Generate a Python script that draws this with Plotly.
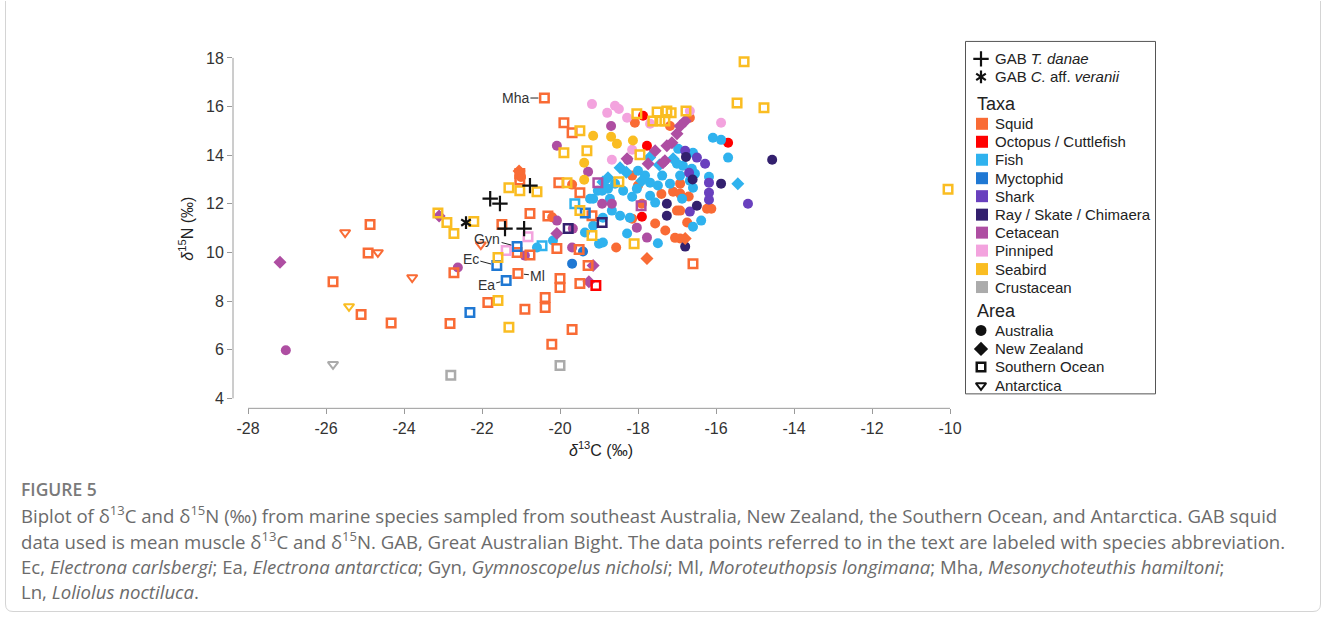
import plotly.graph_objects as go

W, H = 1328, 620
# horizontal extent, in screen pixels, that the paper ends up spanning
W_EFF = 1321

# ---------------- stable isotope values (x = d13C, y = d15N, per mil) ----------------
squid_au_x = [-18.08, -16.67, -17.18, -18.15, -18.00, -17.00, -17.56, -18.15, -18.56, -16.92,
              -16.23, -16.12, -19.69, -17.40, -17.10, -16.70, -17.90, -17.30, -16.92, -16.92,
              -20.20, -21.00, -16.74, -16.92, -17.05]
squid_au_y = [15.33, 15.54, 15.20, 13.16, 12.75, 11.72, 11.19, 11.39, 10.20, 10.57,
              11.80, 11.80, 12.79, 12.40, 12.50, 12.30, 12.00, 10.90, 12.83, 11.72,
              11.45, 13.10, 11.23, 12.42, 10.60]
squid_nz_x = [-17.77, -16.79, -21.05]
squid_nz_y = [9.75, 10.57, 13.35]
squid_so_x = [-20.40, -19.90, -19.69, -21.03, -21.03, -20.03, -20.77, -20.31, -21.49, -21.10,
              -20.77, -20.08, -19.51, -22.72, -21.08, -20.00, -20.00, -19.49, -19.28, -21.85,
              -20.90, -20.38, -20.38, -22.82, -19.69, -20.21, -16.59, -25.82, -24.87, -24.92,
              -25.10, -24.33, -19.49, -19.18]
squid_so_y = [16.35, 15.33, 14.92, 13.25, 12.98, 12.87, 11.60, 11.50, 11.15, 10.00,
              9.90, 10.16, 10.12, 9.17, 9.13, 8.93, 8.56, 8.72, 9.46, 7.94,
              7.66, 8.15, 7.74, 7.08, 6.83, 6.22, 9.54, 8.80, 11.15, 9.98,
              7.45, 7.10, 12.46, 11.51]
squid_an_x = [-25.51, -24.67, -23.79, -22.03]
squid_an_y = [10.82, 10.00, 8.97, 10.32]

octo_au_x = [-17.87, -17.77, -15.69, -17.90]
octo_au_y = [15.62, 14.39, 14.51, 11.47]
octo_so_x = [-19.08]
octo_so_y = [8.64]

fish_au_x = [-19.15, -18.72, -18.67, -18.90, -18.46, -18.21, -18.03, -17.69, -17.49, -17.38,
             -17.18, -17.69, -17.56, -18.77, -18.59, -18.38, -18.15, -16.85, -16.92, -18.00,
             -17.82, -18.90, -18.28, -17.49, -19.03, -19.15, -16.08, -15.87, -15.69, -16.38,
             -16.59, -16.18, -19.00, -16.97, -16.59, -17.00, -16.62, -16.59, -16.67, -16.87,
             -16.54, -20.18, -20.59, -19.36, -19.23, -18.92]
fish_au_y = [12.21, 12.21, 11.72, 11.43, 11.51, 11.43, 12.62, 12.33, 12.75, 13.16,
             12.83, 12.87, 12.05, 12.62, 12.83, 12.54, 12.29, 13.57, 13.16, 13.36,
             13.16, 10.41, 10.78, 10.38, 12.54, 11.10, 14.72, 14.63, 13.90, 11.31,
             11.06, 13.11, 10.36, 14.26, 14.10, 13.65, 13.44, 12.66, 12.95, 12.21,
             13.24, 10.49, 10.20, 10.82, 12.21, 12.54]
fish_nz_x = [-15.44, -18.46, -18.77, -17.10, -18.30, -17.90, -17.45, -18.90, -17.70]
fish_nz_y = [12.83, 13.48, 13.07, 13.85, 13.30, 12.95, 13.60, 12.90, 13.90]
fish_so_x = [-19.62, -20.46]
fish_so_y = [12.00, 10.28]

myct_au_x = [-19.69, -19.41]
myct_au_y = [9.54, 10.04]
myct_so_x = [-21.10, -21.62, -21.38, -22.31, -19.35]
myct_so_y = [10.24, 9.46, 8.85, 7.53, 11.62]

shark_au_x = [-16.79, -16.49, -16.28, -16.69, -16.18, -16.18, -16.18, -16.67, -15.18]
shark_au_y = [14.18, 13.90, 13.65, 13.28, 12.87, 12.46, 12.17, 11.68, 12.00]

ray_au_x = [-14.56, -15.87, -16.49, -16.79, -17.26, -17.26, -16.77, -16.60]
ray_au_y = [13.81, 12.83, 11.92, 10.24, 12.00, 11.51, 13.93, 13.00]
ray_so_x = [-18.92, -19.79]
ray_so_y = [11.23, 10.98]

ceta_au_x = [-27.03, -20.08, -19.28, -18.69, -18.26, -22.62, -20.90, -19.69, -18.92, -18.67,
             -17.77, -18.03, -20.08, -19.67]
ceta_au_y = [5.98, 14.39, 13.32, 15.20, 13.81, 9.38, 9.87, 10.20, 12.00, 12.00,
             10.61, 11.02, 11.31, 10.98]
ceta_nz_x = [-27.18, -23.10, -19.15, -19.26, -16.79, -16.92, -17.00, -17.13, -17.26, -17.56,
             -17.31, -17.74, -18.28, -17.36, -20.08]
ceta_nz_y = [9.60, 11.50, 9.46, 8.80, 15.41, 15.20, 14.88, 14.51, 14.39, 14.18,
             13.77, 13.65, 13.85, 13.69, 10.78]
ceta_so_x = [-19.03, -17.92]
ceta_so_y = [12.87, 11.92]

pinn_au_x = [-19.18, -18.79, -18.59, -18.49, -18.28, -17.69, -18.67, -18.15, -15.87, -16.67]
pinn_au_y = [16.10, 15.74, 16.03, 15.90, 15.54, 15.29, 13.81, 14.22, 15.33, 15.82]
pinn_so_x = [-21.38, -20.82]
pinn_so_y = [10.08, 10.65]

bird_au_x = [-19.15, -19.38, -19.38, -18.69, -18.54, -18.13]
bird_au_y = [14.80, 13.69, 12.99, 14.76, 14.47, 14.60]
bird_so_x = [-23.13, -22.90, -22.72, -22.21, -21.31, -21.03, -20.59, -19.82, -18.49, -19.90,
             -19.31, -19.49, -18.03, -17.62, -17.51, -17.26, -17.15, -17.44, -17.31, -16.77,
             -15.28, -15.46, -14.77, -17.95, -10.05, -19.49, -19.18, -18.10, -21.59, -21.31,
             -21.59]
bird_so_y = [11.62, 11.23, 10.78, 11.27, 12.66, 12.54, 12.50, 12.87, 12.91, 14.10,
             14.18, 15.00, 15.70, 15.41, 15.78, 15.82, 15.74, 15.41, 15.41, 15.82,
             17.84, 16.15, 15.95, 14.02, 12.60, 11.72, 10.70, 10.36, 8.02, 6.92,
             9.79]
bird_an_x = [-25.41]
bird_an_y = [7.78]

crus_an_x = [-25.82]
crus_an_y = [5.40]
crus_so_x = [-20.00, -22.80]
crus_so_y = [5.35, 4.95]

# Great Australian Bight squid (mean muscle values)
gab_danae_x = [-21.79, -21.54, -20.77, -21.41, -20.92]
gab_danae_y = [12.21, 12.01, 12.75, 10.98, 10.98]
gab_veranii_x = [-22.41]
gab_veranii_y = [11.23]

taxa = ["Squid", "Octopus / Cuttlefish", "Fish", "Myctophid", "Shark",
        "Ray / Skate / Chimaera", "Cetacean", "Pinniped", "Seabird", "Crustacean"]
taxa_colors = ["#F96B35", "#FF0000", "#2FB2EE", "#1F78D3", "#6940BE",
               "#33206E", "#AE4EA2", "#F3A3DE", "#FABD22", "#ABABAB"]
areas = ["Australia", "New Zealand", "Southern Ocean", "Antarctica"]

x_ticks = [-28, -26, -24, -22, -20, -18, -16, -14, -12, -10]
y_ticks = [4, 6, 8, 10, 12, 14, 16, 18]

# (taxon index, area index, x values, y values)
series = [
    (0, 0, squid_au_x, squid_au_y), (1, 0, octo_au_x, octo_au_y), (2, 0, fish_au_x, fish_au_y),
    (3, 0, myct_au_x, myct_au_y), (4, 0, shark_au_x, shark_au_y), (5, 0, ray_au_x, ray_au_y),
    (6, 0, ceta_au_x, ceta_au_y), (7, 0, pinn_au_x, pinn_au_y), (8, 0, bird_au_x, bird_au_y),
    (0, 1, squid_nz_x, squid_nz_y), (2, 1, fish_nz_x, fish_nz_y), (6, 1, ceta_nz_x, ceta_nz_y),
    (0, 2, squid_so_x, squid_so_y), (1, 2, octo_so_x, octo_so_y), (2, 2, fish_so_x, fish_so_y),
    (3, 2, myct_so_x, myct_so_y), (5, 2, ray_so_x, ray_so_y), (6, 2, ceta_so_x, ceta_so_y),
    (7, 2, pinn_so_x, pinn_so_y), (8, 2, bird_so_x, bird_so_y), (9, 2, crus_so_x, crus_so_y),
    (0, 3, squid_an_x, squid_an_y), (8, 3, bird_an_x, bird_an_y), (9, 3, crus_an_x, crus_an_y),
]

# marker look for each sampling area
area_marker = [
    dict(symbol="circle", size=10, line=dict(width=0)),
    dict(symbol="diamond", size=10, line=dict(width=0)),
    dict(symbol="square-open", size=8.5, line=dict(width=2.5)),
    dict(symbol="triangle-down-open", size=9, line=dict(width=2)),
]
INK = "#111111"
cross_marker = dict(symbol="cross-thin-open", size=11, color=INK, line=dict(width=2.2, color=INK))
# six-armed asterisk built from two mirrored "Y" glyphs
star_markers = [dict(symbol=s, size=8, color=INK, line=dict(width=2.2, color=INK))
                for s in ("y-up-open", "y-down-open")]

FONT = "Liberation Sans, Arial, sans-serif"
CAP_FONT = "Open Sans, Lato, sans-serif"

fig = go.Figure()

for a in range(len(areas)):
    for t, area, xs, ys in series:
        if area != a:
            continue
        m = dict(area_marker[a])
        m["color"] = taxa_colors[t]
        if "open" in m["symbol"]:
            m["line"] = dict(width=m["line"]["width"], color=taxa_colors[t])
        fig.add_trace(go.Scatter(x=xs, y=ys, mode="markers", marker=m,
                                 name=f"{taxa[t]} ({areas[area]})", showlegend=False,
                                 cliponaxis=False, xaxis="x", yaxis="y"))

fig.add_trace(go.Scatter(x=gab_danae_x, y=gab_danae_y, mode="markers", showlegend=False,
                         name="GAB T. danae", cliponaxis=False, marker=cross_marker))
for sm in star_markers:
    fig.add_trace(go.Scatter(x=gab_veranii_x, y=gab_veranii_y, mode="markers", showlegend=False,
                             name="GAB C. aff. veranii", cliponaxis=False, marker=sm))

# ---------------- labelled species ----------------
labelled = [
    ("Mha", squid_so_x[0], squid_so_y[0], -29, 0),
    ("Gyn", myct_so_x[0], myct_so_y[0], -30, -8),
    ("Ec", myct_so_x[1], myct_so_y[1], -26, -7),
    ("Ml", squid_so_x[14], squid_so_y[14], 20, 2),
    ("Ea", myct_so_x[2], myct_so_y[2], -20, 5),
]
annotations = []
for name, lx, ly, ax, ay in labelled:
    annotations.append(dict(x=lx, y=ly, xref="x", yref="y", text=name, showarrow=True,
                            arrowhead=0, arrowwidth=1, arrowcolor="#222222", ax=ax, ay=ay,
                            standoff=6, font=dict(family=FONT, size=14, color="#333333")))

# ---------------- overlay in pixel units for legend, titles and caption ----------------
def px(x, y, text, size=15, color="#222222", family=FONT, xanchor="left", weight=None, **kw):
    font = dict(family=family, size=size, color=color)
    if weight:
        font["weight"] = weight
    annotations.append(dict(x=x, y=y, xref="x2", yref="y2", text=text, showarrow=False,
                            xanchor=xanchor, yanchor="middle", font=font, **kw))

# axis titles
px(186, 228, "<i>δ</i><sup>15</sup>N (‰)", size=16, color="#222222", xanchor="center",
   textangle=-90)
px(601, 449, "<i>δ</i><sup>13</sup>C (‰)", size=16, color="#222222", xanchor="center")

# legend
leg_x, leg_text_x = 982, 993
px(leg_text_x, 58, "GAB <i>T. danae</i>")
px(leg_text_x, 76, "GAB <i>C.</i> aff. <i>veranii</i>")
px(975, 103, "Taxa", size=18)
taxa_rows = [123, 141, 159, 177.5, 195.5, 214, 232, 250, 268.5, 286.5]
for name, row in zip(taxa, taxa_rows):
    px(leg_text_x, row, name)
px(975, 310, "Area", size=18)
area_rows = [330, 348.5, 366.5, 385]
for name, row in zip(areas, area_rows):
    px(leg_text_x, row, name)

fig.add_trace(go.Scatter(x=[981], y=[58], mode="markers", xaxis="x2", yaxis="y2",
                         showlegend=False, hoverinfo="skip", marker=cross_marker))
for sm in star_markers:
    fig.add_trace(go.Scatter(x=[981], y=[76], mode="markers", xaxis="x2", yaxis="y2",
                             showlegend=False, hoverinfo="skip", marker=sm))
fig.add_trace(go.Scatter(x=[leg_x] * len(taxa), y=taxa_rows, mode="markers", xaxis="x2",
                         yaxis="y2", showlegend=False, hoverinfo="skip",
                         marker=dict(symbol="square", size=12, color=taxa_colors,
                                     line=dict(width=0))))
for i, row in enumerate(area_rows):
    m = dict(area_marker[i])
    m["color"] = INK
    m["size"] = [11, 11, 8.5, 9][i]
    if "open" in m["symbol"]:
        m["line"] = dict(width=m["line"]["width"], color=INK)
    fig.add_trace(go.Scatter(x=[981], y=[row], mode="markers", xaxis="x2", yaxis="y2",
                             showlegend=False, hoverinfo="skip", marker=m))

# caption
px(19, 489, "FIGURE 5", size=17.5, color="#7a7a7a", family=CAP_FONT, weight=600)
caption_lines = [
    "Biplot of δ<sup>13</sup>C and δ<sup>15</sup>N (‰) from marine species sampled from southeast "
    "Australia, New Zealand, the Southern Ocean, and Antarctica. GAB squid",
    "data used is mean muscle δ<sup>13</sup>C and δ<sup>15</sup>N. GAB, Great Australian Bight. "
    "The data points referred to in the text are labeled with species abbreviation.",
    "Ec, <i>Electrona carlsbergi</i>; Ea, <i>Electrona antarctica</i>; Gyn, <i>Gymnoscopelus "
    "nicholsi</i>; Ml, <i>Moroteuthopsis longimana</i>; Mha, <i>Mesonychoteuthis hamiltoni</i>;",
    "Ln, <i>Loliolus noctiluca</i>.",
]
for line, row in zip(caption_lines, [514, 540, 566, 591]):
    px(19, row, line, size=18.6, color="#6b6b6b", family=CAP_FONT)

shapes = [
    # detached axis lines
    dict(type="line", xref="x", yref="y domain", x0=-28, x1=-10, y0=0, y1=0,
         line=dict(color="#9a9a9a", width=1)),
    dict(type="line", xref="x domain", yref="y", x0=0, x1=0, y0=4, y1=18,
         line=dict(color="#9a9a9a", width=1)),
    # legend frame
    dict(type="rect", xref="x2", yref="y2", x0=965.5, x1=1155.5, y0=40.5, y1=393.5,
         line=dict(color="#555555", width=1)),
    # figure panel border
    dict(type="path", xref="x2", yref="y2",
         path="M 5.5,-10 L 5.5,604 Q 5.5,611.5 13,611.5 L 1313,611.5 Q 1320.5,611.5 1320.5,604 L 1320.5,-10",
         line=dict(color="#d4d4d4", width=1)),
]

x0_px, x1_px, ytop_px, ybot_px = 233, 955, 50, 408
fig.update_layout(
    width=W, height=H, autosize=False,
    margin=dict(l=0, r=0, t=0, b=0),
    paper_bgcolor="white", plot_bgcolor="rgba(0,0,0,0)",
    showlegend=False,
    xaxis=dict(domain=[x0_px / W_EFF, x1_px / W_EFF], range=[-28 - 15 / 39, -10 + 5 / 39],
               tickvals=x_ticks, ticktext=[str(v) for v in x_ticks], showgrid=False,
               zeroline=False, showline=False, ticks="outside", ticklen=5, tickcolor="#9a9a9a",
               tickfont=dict(family=FONT, size=16, color="#333333"), anchor="y"),
    yaxis=dict(domain=[(H - ybot_px) / H, (H - ytop_px) / H],
               range=[4 - 10 / 24.36, 18 + 7 / 24.36],
               tickvals=y_ticks, ticktext=[str(v) for v in y_ticks], showgrid=False,
               zeroline=False, showline=False, ticks="outside", ticklen=5, tickcolor="#9a9a9a",
               tickfont=dict(family=FONT, size=16, color="#333333"), anchor="x"),
    xaxis2=dict(domain=[0, 1], range=[0, W_EFF], visible=False, anchor="y2", fixedrange=True),
    yaxis2=dict(domain=[0, 1], range=[H, 0], visible=False, anchor="x2", fixedrange=True),
    annotations=annotations,
    shapes=shapes,
)

fig.write_html("out.html")
